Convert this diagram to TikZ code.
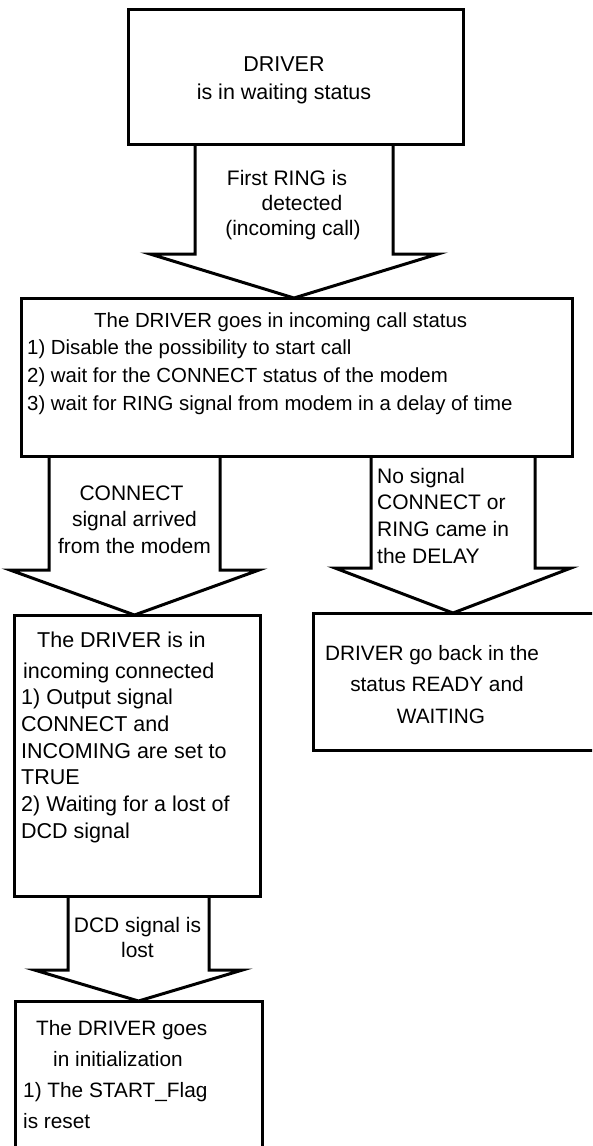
\documentclass[tikz,border=0pt]{standalone}
\usepackage{fontspec}
\setmainfont{Liberation Sans}
\usetikzlibrary{calc}

% lines of text stacked in one column; the baseline is that of the first line
\newcommand\stack[2]{\begin{tabular}[t]{@{}#1@{}}#2\end{tabular}}

% block arrow from the bottom edge of node #1 down to the tip point #2
% #3 half width of the shaft, #4 half width of the head, #5 length of the head
\newcommand\fatarrow[5]{%
  \draw[blockarrow] let \p1=(#1.south), \p2=(#2) in
    (\x2-#3pt,\y1) -- (\x2-#3pt,\y2+#5pt) -- (\x2-#4pt,\y2+#5pt) -- (\p2)
    -- (\x2+#4pt,\y2+#5pt) -- (\x2+#3pt,\y2+#5pt) -- (\x2+#3pt,\y1);}

\begin{document}
\begin{tikzpicture}[x=1pt,y=-1pt,
  box/.style={draw,line width=3pt,inner sep=0pt,outer sep=0pt,anchor=north west},
  blockarrow/.style={draw,line width=3pt,line join=miter},
  txt/.style={inner sep=0pt,font=\fontsize{21}{26.7}\selectfont}]

\useasboundingbox (0,0) rectangle (592,1146);
\fill[white] (0,0) rectangle (592,1146);
\clip (0,0) rectangle (592,1146);

% states
\node[box,minimum width=335pt,minimum height=135pt] (b1) at (128,9) {};
\node[box,minimum width=551pt,minimum height=158pt] (b2) at (21,298) {};
\node[box,minimum width=246pt,minimum height=281pt] (bL) at (14,615) {};
\node[box,minimum width=307pt,minimum height=137pt] (bR) at (313,613) {};
\node[box,minimum width=247pt,minimum height=170pt] (b5) at (15,1001) {};

% transitions
\coordinate (tip1) at ($(b2.north)+(-2.5,0)$);
\coordinate (tipL) at ($(bL.north)+(-2.5,0)$);
\coordinate (tipR) at ($(bR.north west)+(140,0)$);
\coordinate (tipD) at (b5.north);
\fatarrow{b1}{tip1}{99}{144}{44}
\fatarrow{b2}{tipL}{85.5}{124.5}{45}
\fatarrow{b2}{tipR}{82}{118}{45}
\fatarrow{bL}{tipD}{70.5}{104}{31}

% texts of the states
\node[txt,font=\fontsize{21.5}{28}\selectfont,anchor=base] (t1) at (284,71)
  {\stack{c}{DRIVER\\is in waiting status}};
\node[txt,font=\fontsize{20.4}{27.7}\selectfont,anchor=base west] (t3) at (27,327)
  {\stack{l}{\hspace*{67pt}The DRIVER goes in incoming call status\\
   1) Disable the possibility to start call\\
   2) wait for the CONNECT status of the modem\\
   3) wait for RING signal from modem in a delay of time}};
\node[txt,font=\fontsize{21.5}{26.7}\selectfont,anchor=base west] (t6) at (21,647)
  {\stack{l}{\hspace*{16pt}The DRIVER is in\\[4.3pt]
   \hspace*{2pt}incoming connected\\
   1) Output signal\\
   CONNECT and\\
   INCOMING are set to\\
   TRUE\\
   2) Waiting for a lost of\\
   DCD signal}};
\node[txt,font=\fontsize{20.8}{31.5}\selectfont,anchor=base] (t8) at (437,660)
  {\stack{c}{DRIVER go back in the\hspace*{10pt}\\status READY and\\\hspace*{8pt}WAITING}};
\node[txt,font=\fontsize{20.8}{31.3}\selectfont,anchor=base west] (t9) at (23,1035)
  {\stack{l}{\hspace*{13pt}The DRIVER goes\\\hspace*{30pt}in initialization\\1) The START\_Flag\\is reset}};

% texts of the transitions
\node[txt,font=\fontsize{21}{25}\selectfont,anchor=base] (t2) at (293,185)
  {\stack{c}{First RING is\hspace*{12pt}\\\hspace*{18pt}detected\\(incoming call)}};
\node[txt,font=\fontsize{21}{26.5}\selectfont,anchor=base] (t4) at (134.5,500)
  {\stack{c}{CONNECT\hspace*{6pt}\\signal arrived\\from the modem}};
\node[txt,anchor=base west] (t5) at (377,483)
  {\stack{l}{No signal\\CONNECT or\\RING came in\\the DELAY}};
\node[txt,font=\fontsize{21}{25}\selectfont,anchor=base] (t7) at (137.5,932)
  {\stack{c}{DCD signal is\\lost}};
\end{tikzpicture}
\end{document}
